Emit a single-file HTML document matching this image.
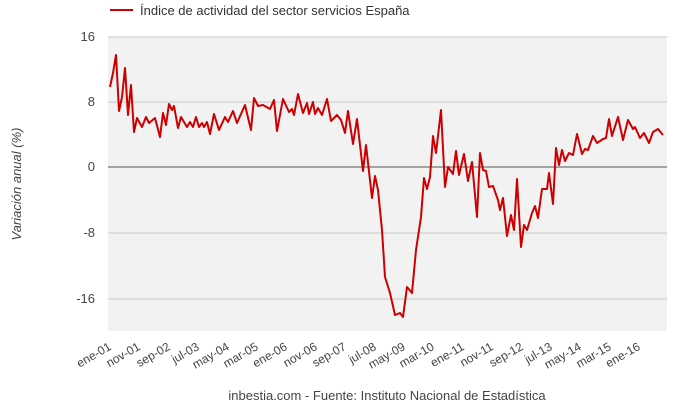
<!DOCTYPE html>
<html><head><meta charset="utf-8"><style>body{margin:0;background:#fff}svg{display:block}</style></head>
<body>
<svg width="680" height="411" xmlns="http://www.w3.org/2000/svg" font-family="Liberation Sans, sans-serif">
<rect x="108" y="37" width="559" height="294" fill="#f2f2f2"/>
<g stroke="#c8c8c8" stroke-width="1">
<line x1="108" y1="37" x2="667" y2="37"/><line x1="108" y1="102" x2="667" y2="102"/>
<line x1="108" y1="233" x2="667" y2="233"/><line x1="108" y1="299" x2="667" y2="299"/>
</g>
<line x1="108" y1="167" x2="667" y2="167" stroke="#555" stroke-width="1"/>
<g font-size="13" fill="#444" text-anchor="end">
<text x="95" y="41">16</text><text x="95" y="106">8</text><text x="95" y="171">0</text><text x="95" y="237">-8</text><text x="95" y="303">-16</text>
</g>
<text transform="translate(21,184) rotate(-90)" font-size="13" font-style="italic" fill="#444" text-anchor="middle">Variación anual (%)</text>
<polyline fill="none" stroke="#cc0000" stroke-width="2" stroke-linejoin="round" points="110,87 113,73 116,55 119,111 122,97 125,68 128,115 131,85 134,132 137,118 142,127 146,117 149,123 155,118 160,137 163,113 166,125 169,104 172,110 174,106 178,128 181,117 187,127 190,122 193,127 196,117 199,127 202,123 204,127 207,122 210,134 214,114 219,130 225,117 228,122 233,111 237,123 245,105 251,130 254,98 258,106 263,105 270,109 274,100 277,131 283,99 289,112 292,109 294,115 298,94 303,113 307,103 309,114 313,102 315,114 318,108 322,115 327,99 331,121 337,115 341,120 345,133 348,111 353,144 357,119 363,171 366,145 372,198 375,176 378,190 382,230 385,277 390,293 395,315 400,313 403,317 407,287 412,293 416,250 421,217 424,178 427,189 430,177 433,136 436,153 441,110 445,187 448,167 453,174 456,151 459,175 464,154 468,181 472,162 477,217 480,153 483,170 486,171 489,187 493,186 498,200 500,210 503,198 507,236 511,215 514,230 517,179 521,247 524,225 527,230 532,213 535,206 538,218 542,189 547,189 549,173 553,204 556,148 559,165 562,150 565,161 569,153 573,155 577,134 582,154 585,149 588,150 593,136 597,143 603,139 606,138 609,119 612,136 618,117 623,140 628,120 633,129 635,127 640,138 644,133 649,143 653,132 658,129 663,135"/>
<g font-size="12" fill="#444" text-anchor="end">
<text transform="translate(112,349) rotate(-30)">ene-01</text>
<text transform="translate(141,349) rotate(-30)">nov-01</text>
<text transform="translate(171,349) rotate(-30)">sep-02</text>
<text transform="translate(200,349) rotate(-30)">jul-03</text>
<text transform="translate(230,349) rotate(-30)">may-04</text>
<text transform="translate(259,349) rotate(-30)">mar-05</text>
<text transform="translate(288,349) rotate(-30)">ene-06</text>
<text transform="translate(318,349) rotate(-30)">nov-06</text>
<text transform="translate(347,349) rotate(-30)">sep-07</text>
<text transform="translate(377,349) rotate(-30)">jul-08</text>
<text transform="translate(406,349) rotate(-30)">may-09</text>
<text transform="translate(435,349) rotate(-30)">mar-10</text>
<text transform="translate(465,349) rotate(-30)">ene-11</text>
<text transform="translate(494,349) rotate(-30)">nov-11</text>
<text transform="translate(524,349) rotate(-30)">sep-12</text>
<text transform="translate(553,349) rotate(-30)">jul-13</text>
<text transform="translate(582,349) rotate(-30)">may-14</text>
<text transform="translate(612,349) rotate(-30)">mar-15</text>
<text transform="translate(641,349) rotate(-30)">ene-16</text>
</g>
<line x1="110" y1="10" x2="133" y2="10" stroke="#cc0000" stroke-width="2"/>
<text x="140" y="15" font-size="13" fill="#333">Índice de actividad del sector servicios España</text>
<text x="387" y="400" font-size="13" fill="#444" text-anchor="middle">inbestia.com - Fuente: Instituto Nacional de Estadística</text>
</svg>
</body></html>
